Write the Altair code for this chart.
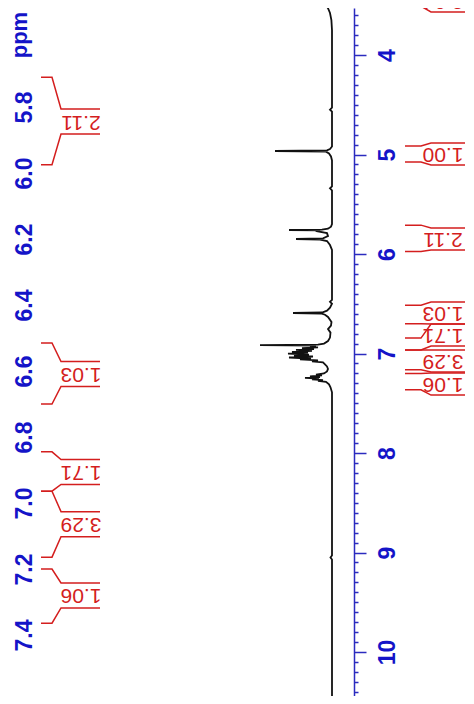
import altair as alt
import pandas as pd
import numpy as np

# ---------------- data ----------------
# 1H spectrum trace: chemical shift (ppm) and intensity (arbitrary units)
trace_ppm = [3.40, 3.44, 3.446, 3.45, 3.47, 3.50, 3.53, 3.578, 3.65, 3.75,
             4.53, 4.55, 4.57,
             4.92, 4.945, 4.958, 4.965, 4.972, 4.99, 5.02, 5.06,
             5.32, 5.34, 5.36,
             5.70, 5.725, 5.745, 5.755, 5.759, 5.763, 5.772, 5.79, 5.82, 5.842, 5.849, 5.855, 5.87, 5.91, 5.96,
             6.46, 6.48, 6.50,
             6.54, 6.57, 6.588, 6.593, 6.598, 6.61, 6.633, 6.683,
             6.72, 6.755, 6.79,
             6.84, 6.875, 6.90, 6.91, 6.915, 6.921, 6.93, 6.938, 6.946, 6.955, 6.964, 6.973, 6.983,
             6.992, 7.002, 7.011, 7.02, 7.03, 7.04, 7.05, 7.06, 7.07, 7.08, 7.09,
             7.11, 7.13, 7.155, 7.18, 7.20, 7.212, 7.22, 7.23, 7.238, 7.245, 7.252, 7.26, 7.268,
             7.275, 7.285, 7.31, 7.34, 7.39,
             9.03, 9.05, 9.07, 10.6]
trace_int = [330, 200, 120, 39, 14, 6, 4, 2, 0.6, 0,
             0, 2, 0,
             0, 2, 5, 57, 6, 3, 1, 0,
             0, 2, 0,
             0, 1, 4, 10, 43, 12, 14, 5, 4, 9, 36, 12, 5, 2, 0,
             0, 2, 0,
             2, 5, 10, 39, 11, 7, 4, 0.5,
             1, 4, 1.5,
             2, 4, 8, 14, 72, 16, 22, 14, 30, 18, 36, 20, 40,
             24, 44, 23, 38, 19, 43, 21, 32, 14, 20, 9,
             7, 5, 4, 5, 8, 16, 10, 22, 12, 27, 13, 20, 9,
             14, 6, 3, 1.5, 0,
             0, 1.5, 0, 0]

# integrals
integral_text = ["2.04", "1.00", "2.11", "1.03", "1.71", "3.29", "1.06"]
integral_start = [3.25, 4.915, 5.71, 6.515, 6.845, 6.964, 7.20]
integral_end = [3.51, 5.075, 5.975, 6.70, 6.964, 7.164, 7.364]
main_label_ppm = [3.457, 4.995, 5.849, 6.593, 6.814, 7.075, 7.307]
inset_index = [2, 3, 4, 5, 6]
inset_label_ppm = [5.844, 6.609, 6.906, 7.064, 7.280]

# axis ticks
main_major = [4, 5, 6, 7, 8, 9, 10]
main_minor = [round(v, 1) for v in np.arange(3.6, 10.55, 0.1) if abs(v - round(v)) > 0.01]
inset_ticks = [5.8, 6.0, 6.2, 6.4, 6.6, 6.8, 7.0, 7.2, 7.4]

# ---------------- layout ----------------
W, H = 458, 688
MAIN_DOMAIN = [3.5276, 10.4422]
INSET_DOMAIN = [5.5, 7.5848]
X_DOMAIN = [-134, 324]
MAIN_PX = H / (MAIN_DOMAIN[1] - MAIN_DOMAIN[0])
INSET_PX = H / (INSET_DOMAIN[1] - INSET_DOMAIN[0])

BLUE = "#1414c8"
AXBLUE = "#2b2bbf"
RED = "#d41e1e"
FONT = "Liberation Sans"

xs = alt.Scale(domain=X_DOMAIN, reverse=True, nice=False, zero=False)
main_scale = alt.Scale(domain=MAIN_DOMAIN, reverse=True, nice=False, zero=False)
inset_scale = alt.Scale(domain=INSET_DOMAIN, reverse=True, nice=False, zero=False)

trace = pd.DataFrame({"ppm": trace_ppm, "intensity": trace_int})


def brackets(idx, label_ppm, half, xpts):
    rows = []
    for k, i in enumerate(idx):
        for side, lim in ((-1, integral_start[i]), (1, integral_end[i])):
            edge = label_ppm[k] + side * half
            g = f"{i}_{side}"
            for s, (xv, yv) in enumerate([(xpts[0], lim), (xpts[1], lim), (xpts[2], edge), (xpts[3], edge)]):
                rows.append({"g": g, "s": s, "x": xv, "ppm": yv})
    return pd.DataFrame(rows)


all_idx = list(range(len(integral_text)))
main_br = brackets(all_idx, main_label_ppm, 11 / MAIN_PX, [-73, -89, -99, -133])
inset_br = brackets(inset_index, inset_label_ppm, 12.5 / INSET_PX, [291, 280, 271, 232])

main_lab = pd.DataFrame({"ppm": main_label_ppm, "text": integral_text, "x": [-111] * len(integral_text)})
inset_lab = pd.DataFrame({"ppm": inset_label_ppm, "text": [integral_text[i] for i in inset_index],
                          "x": [251] * len(inset_index)})
ppm_title = pd.DataFrame({"ppm": [5.582], "text": ["ppm"], "x": [322]})

major_axis = alt.Axis(orient="right", offset=-112, values=main_major, format="d",
                      labelAngle=270, labelAlign="center", labelBaseline="top",
                      labelFont=FONT, labelFontSize=23, labelFontWeight="bold", labelColor=BLUE,
                      labelPadding=10, tickSize=12, tickColor=AXBLUE, tickWidth=1.5,
                      domainColor=AXBLUE, domainWidth=1.5, grid=False, title=None,
                      labelFlush=False, labelOverlap=False)
minor_axis = alt.Axis(orient="right", offset=-112, values=main_minor, labels=False,
                      tickSize=4, tickColor=AXBLUE, tickWidth=1.5, domain=False,
                      grid=False, title=None)
inset_axis = alt.Axis(orient="right", offset=-452.7, values=inset_ticks, format=".1f",
                      labelAngle=270, labelAlign="center", labelBaseline="top",
                      labelFont=FONT, labelFontSize=23, labelFontWeight="bold", labelColor=BLUE,
                      labelPadding=0, ticks=False, tickSize=0, domain=False, grid=False,
                      title=None, labelFlush=False, labelOverlap=False)

spectrum = alt.Chart(trace).mark_line(color="#111111", strokeWidth=1.8, clip=True).encode(
    x=alt.X("intensity:Q", scale=xs, axis=None),
    y=alt.Y("ppm:Q", scale=main_scale, axis=major_axis),
    order="ppm:Q",
)
minor = alt.Chart(trace).mark_line(strokeOpacity=0).encode(
    x=alt.X("intensity:Q", scale=xs, axis=None),
    y=alt.Y("ppm:Q", scale=main_scale, axis=minor_axis),
    order="ppm:Q",
)
main_brackets = alt.Chart(main_br).mark_line(color=RED, strokeWidth=1.5, clip=True).encode(
    x=alt.X("x:Q", scale=xs, axis=None),
    y=alt.Y("ppm:Q", scale=main_scale, axis=None),
    detail="g:N", order="s:Q",
)
main_labels = alt.Chart(main_lab).mark_text(angle=180, align="center", baseline="middle",
                                            font=FONT, fontSize=21, color=RED).encode(
    x=alt.X("x:Q", scale=xs, axis=None),
    y=alt.Y("ppm:Q", scale=main_scale, axis=None),
    text="text:N",
)
inset_brackets = alt.Chart(inset_br).mark_line(color=RED, strokeWidth=1.5, clip=True).encode(
    x=alt.X("x:Q", scale=xs, axis=None),
    y=alt.Y("ppm:Q", scale=inset_scale, axis=None),
    detail="g:N", order="s:Q",
)
inset_labels = alt.Chart(inset_lab).mark_text(angle=180, align="center", baseline="middle",
                                              font=FONT, fontSize=21, color=RED).encode(
    x=alt.X("x:Q", scale=xs, axis=None),
    y=alt.Y("ppm:Q", scale=inset_scale, axis=inset_axis),
    text="text:N",
)
title_text = alt.Chart(ppm_title).mark_text(angle=270, align="center", baseline="top",
                                            font=FONT, fontSize=22, fontWeight="bold", color=BLUE).encode(
    x=alt.X("x:Q", scale=xs, axis=None),
    y=alt.Y("ppm:Q", scale=inset_scale, axis=None),
    text="text:N",
)

chart = alt.layer(
    spectrum, minor, main_brackets, main_labels, inset_brackets, inset_labels, title_text
).resolve_scale(y="independent").properties(
    width=W, height=H, padding=0,
    autosize=alt.AutoSizeParams(type="none"),
    background="white",
).configure_view(stroke=None)

chart.save("out.html", embed_options={"renderer": "svg", "actions": False})
